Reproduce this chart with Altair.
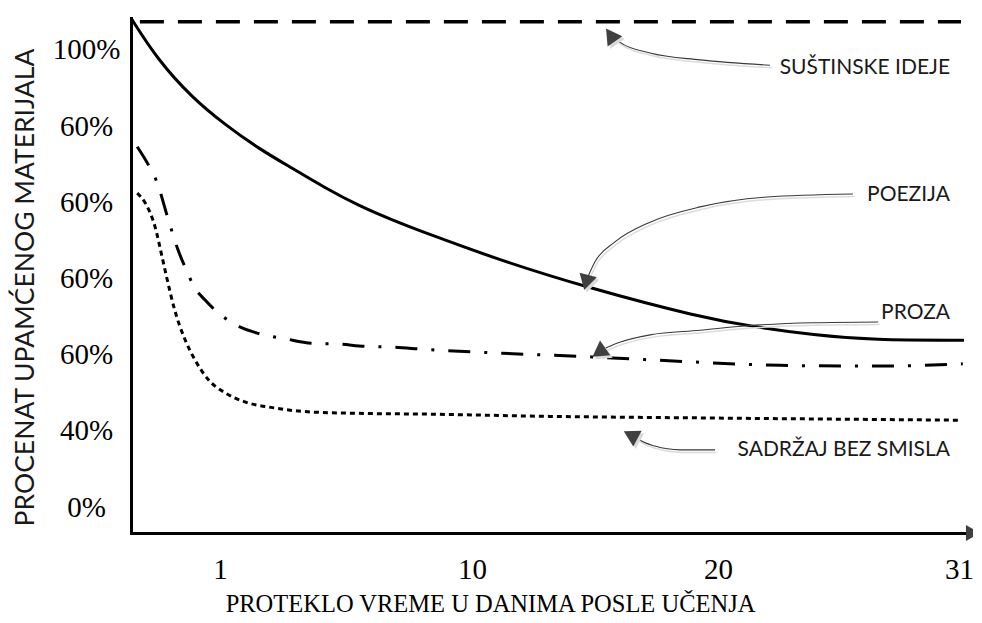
import altair as alt
import pandas as pd

# ---------------- axes ----------------
X_TICKS = [1, 10, 20, 31]
X_DOMAIN = [0, 1, 10, 20, 31, 31.3]          # piecewise day scale (reference spacing)
X_RANGE = [0, 89, 341, 587, 828, 834]
Y_TICK_POS = [0, 1, 2, 3, 4, 5, 6]
Y_TICK_LABELS = ["0%", "40%", "60%", "60%", "60%", "60%", "100%"]
Y_DOMAIN = [-0.341, 6.42]

# ---------------- series ----------------
ideje_day = [0.1, 31.1]
ideje_val = [6.37, 6.37]

poezija_day = [0, 0.30, 0.69, 1.18, 2.36, 3.57, 4.75, 5.93, 7.14, 8.32, 11.14,
               14.59, 19.27, 21.78, 24.34, 27.08, 31.25]
poezija_val = [6.42, 5.87, 5.37, 5.02, 4.71, 4.45, 4.19, 3.96, 3.77, 3.60, 3.24,
               2.89, 2.49, 2.36, 2.26, 2.19, 2.19]

proza_day = [0.07, 0.21, 0.29, 0.42, 0.53, 0.63, 0.70, 0.83, 0.98, 1.43, 2.36,
             3.32, 4.29, 5.21, 6.18, 7.14, 8.32, 11.14, 14.92, 19.27, 22.83,
             27.4, 31.19]
proza_val = [4.73, 4.46, 4.27, 3.77, 3.37, 3.09, 2.91, 2.72, 2.55, 2.42, 2.28,
             2.21, 2.15, 2.14, 2.11, 2.10, 2.07, 2.02, 1.97, 1.90, 1.86,
             1.85, 1.88]

sadrzaj_day = [0.07, 0.16, 0.27, 0.35, 0.40, 0.49, 0.61, 0.72, 0.87, 1.18, 1.89,
               2.96, 4.14, 5.93, 8.32, 13.17, 19.27, 31.05]
sadrzaj_val = [4.12, 3.99, 3.68, 3.28, 3.02, 2.59, 2.19, 1.93, 1.67, 1.50, 1.38,
               1.30, 1.25, 1.23, 1.22, 1.19, 1.17, 1.14]

# ---------------- annotations ----------------
label_text = ["SUŠTINSKE IDEJE", "POEZIJA", "PROZA", "SADRŽAJ BEZ SMISLA"]
label_day = [30.59, 30.59, 30.59, 30.59]
label_val = [5.76, 4.10, 2.55, 0.75]

arrow1_day = [22.37, 19.27, 17.24, 16.02, 15.73]
arrow1_val = [5.80, 5.87, 5.96, 6.10, 6.18]
arrow2_day = [26.16, 22.24, 19.27, 17.24, 15.81, 15.0, 14.72]
arrow2_val = [4.11, 4.07, 3.94, 3.74, 3.48, 3.22, 3.03]
arrow3_day = [27.31, 24.34, 21.32, 19.27, 17.24, 15.89, 15.33]
arrow3_val = [2.43, 2.42, 2.38, 2.32, 2.26, 2.15, 2.07]
arrow4_day = [19.88, 18.46, 17.44, 16.83, 16.67]
arrow4_val = [0.75, 0.75, 0.80, 0.88, 0.92]

head_day = [15.69, 14.67, 15.24, 16.54]
head_val = [6.17, 2.98, 2.05, 0.93]
head_angle = [325, 195, 235, 298]

axis_head_day = [31.58]
axis_head_val = [-0.341]
axis_head_angle = [90]

# ---------------- build ----------------
W, H = 834, 515

xs = alt.Scale(type="linear", domain=X_DOMAIN, range=X_RANGE, nice=False, zero=False)
ys = alt.Scale(domain=Y_DOMAIN, nice=False, zero=False)

label_expr = "[" + ",".join("'" + s + "'" for s in Y_TICK_LABELS) + "][datum.value]"

x_axis = alt.Axis(values=X_TICKS, grid=False, ticks=False, tickSize=0,
                  domainColor="black", domainWidth=3, domainCap="square",
                  labelFont="Liberation Serif", labelFontSize=29, labelColor="black",
                  labelPadding=36, labelBaseline="middle", labelFlush=False,
                  title="PROTEKLO VREME U DANIMA POSLE UČENJA",
                  titleFont="Liberation Serif", titleFontSize=24.5, titleFontWeight="normal",
                  titleColor="black", titleX=359, titleY=71, titleBaseline="middle",
                  titleAlign="center", titleAnchor="start")
y_axis = alt.Axis(values=Y_TICK_POS, grid=False, ticks=False, tickSize=0,
                  domainColor="black", domainWidth=3, domainCap="square",
                  labelFont="Liberation Serif", labelFontSize=29, labelColor="black",
                  labelPadding=45, labelAlign="center", labelBaseline="middle",
                  labelFlush=False, labelExpr=label_expr,
                  title="PROCENAT UPAMĆENOG MATERIJALA",
                  titleFont="Lato", titleFontSize=26.5, titleFontWeight="normal",
                  titleColor="#1a1a1a", titleX=-106, titleY=269, titleAngle=270,
                  titleBaseline="middle", titleAlign="center", titleAnchor="start")


def df(days, vals, **extra):
    d = pd.DataFrame({"day": days, "val": vals})
    for k, v in extra.items():
        d[k] = v
    return d


base_enc = dict(x=alt.X("day:Q", scale=xs, axis=x_axis),
                y=alt.Y("val:Q", scale=ys, axis=y_axis))


def enc():
    return dict(x=alt.X("day:Q", scale=xs), y=alt.Y("val:Q", scale=ys))


ideje = alt.Chart(df(ideje_day, ideje_val)).mark_line(
    color="black", strokeWidth=3.5, strokeDash=[24, 14]).encode(**base_enc)
poezija = alt.Chart(df(poezija_day, poezija_val)).mark_line(
    color="black", strokeWidth=3, interpolate="basis").encode(**enc())
proza = alt.Chart(df(proza_day, proza_val)).mark_line(
    color="black", strokeWidth=3, interpolate="monotone",
    strokeDash=[22, 14, 3, 14]).encode(**enc())
sadrzaj = alt.Chart(df(sadrzaj_day, sadrzaj_val)).mark_line(
    color="black", strokeWidth=3, interpolate="monotone",
    strokeDash=[5, 4]).encode(**enc())

arrows_df = pd.concat([
    df(arrow1_day, arrow1_val, arrow="a1"),
    df(arrow2_day, arrow2_val, arrow="a2"),
    df(arrow3_day, arrow3_val, arrow="a3"),
    df(arrow4_day, arrow4_val, arrow="a4"),
], ignore_index=True)

arrow_shadow = alt.Chart(arrows_df).mark_line(
    color="#dcdcdc", strokeWidth=1.5, interpolate="monotone",
    xOffset=1.5, yOffset=2.5).encode(detail="arrow:N", **enc())
arrow_lines = alt.Chart(arrows_df).mark_line(
    color="#3a3a3a", strokeWidth=1.1, interpolate="monotone").encode(
    detail="arrow:N", **enc())

heads_df = pd.DataFrame({"day": head_day, "val": head_val, "angle": head_angle})
head_shadow = alt.Chart(heads_df).mark_point(
    shape="triangle", filled=True, size=320, color="#d9d9d9", opacity=1,
    xOffset=2.5, yOffset=2.5).encode(angle=alt.Angle("angle:Q", scale=None), **enc())
heads = alt.Chart(heads_df).mark_point(
    shape="triangle", filled=True, size=320, color="#404040", opacity=1).encode(
    angle=alt.Angle("angle:Q", scale=None), **enc())

axis_head = alt.Chart(pd.DataFrame({"day": axis_head_day, "val": axis_head_val,
                                    "angle": axis_head_angle})).mark_point(
    shape="triangle", filled=True, size=260, color="#404040", opacity=1).encode(
    angle=alt.Angle("angle:Q", scale=None), **enc())

labels = alt.Chart(pd.DataFrame({"day": label_day, "val": label_val,
                                 "text": label_text})).mark_text(
    align="right", baseline="middle", font="Lato", fontSize=21,
    color="#1a1a1a").encode(text="text:N", **enc())

chart = alt.layer(
    ideje, poezija, proza, sadrzaj, arrow_shadow, arrow_lines,
    head_shadow, heads, axis_head, labels
).properties(
    width=W, height=H,
    autosize=alt.AutoSizeParams(type="none"),
    padding={"left": 123, "top": 10, "right": 8, "bottom": 88},
    background="white",
).configure_view(strokeWidth=0)

chart.save("out.html", embed_options={"renderer": "svg", "actions": False})
